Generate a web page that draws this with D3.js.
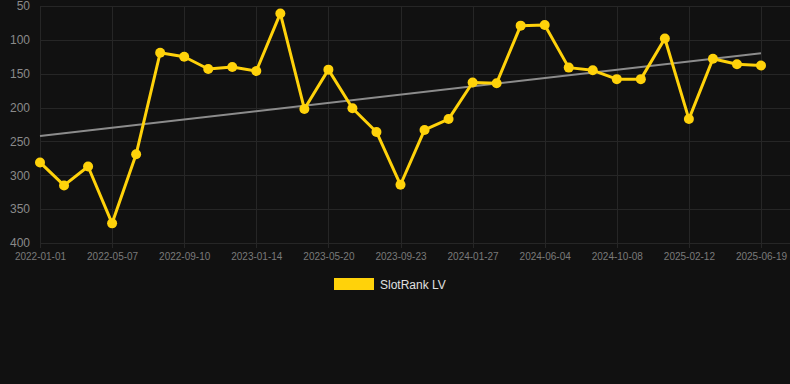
<!DOCTYPE html>
<html>
<head>
<meta charset="utf-8">
<script src="https://cdn.jsdelivr.net/npm/d3@7"></script>
<style>
  html, body { margin: 0; padding: 0; background: #111111; }
  svg { display: block; }
</style>
</head>
<body>
<svg id="chart" width="790" height="384"></svg>
<script>
// ---- data ----
const dates = [
  "2022-01-01","2022-02-12","2022-03-26","2022-05-07","2022-06-18","2022-07-30",
  "2022-09-10","2022-10-22","2022-12-03","2023-01-14","2023-02-25","2023-04-08",
  "2023-05-20","2023-07-01","2023-08-12","2023-09-23","2023-11-04","2023-12-16",
  "2024-01-27","2024-03-09","2024-04-23","2024-06-04","2024-07-16","2024-08-27",
  "2024-10-08","2024-11-19","2025-01-01","2025-02-12","2025-03-27","2025-05-08",
  "2025-06-19"
];
const rankValues = [
  281, 315, 287, 371, 269, 119, 125, 143, 140, 146, 61,
  202, 144, 201, 236, 314, 233, 217, 163, 164, 79, 78,
  141, 145, 158, 158, 98, 217, 128, 136, 138
];
const yTicks = [50, 100, 150, 200, 250, 300, 350, 400];
const seriesName = "SlotRank LV";

// ---- layout ----
const svg = d3.select("#chart");
const plotLeft = 40, plotRight = 761, plotTop = 6, plotBottom = 243, gridRight = 790;

const x = d3.scalePoint().domain(dates).range([plotLeft, plotRight]);
const y = d3.scaleLinear().domain([50, 400]).range([plotTop, plotBottom]);

const labelDates = dates.filter((d, i) => i % 3 === 0);

// horizontal gridlines
svg.append("g").selectAll("line").data(yTicks).join("line")
  .attr("x1", plotLeft).attr("x2", gridRight)
  .attr("y1", d => Math.round(y(d)) + 0.5).attr("y2", d => Math.round(y(d)) + 0.5)
  .attr("stroke", "#262626").attr("stroke-width", 1);

// vertical gridlines
svg.append("g").selectAll("line").data(labelDates).join("line")
  .attr("x1", d => Math.round(x(d)) + 0.5).attr("x2", d => Math.round(x(d)) + 0.5)
  .attr("y1", plotTop).attr("y2", plotBottom + 5)
  .attr("stroke", "#262626").attr("stroke-width", 1);

// y axis labels
const yAxis = d3.axisLeft(y).tickValues(yTicks).tickSize(0).tickPadding(0);
const yg = svg.append("g").attr("transform", `translate(${plotLeft - 10},0)`).call(yAxis);
yg.select(".domain").remove();
yg.selectAll("text").attr("fill", "#8a8a8a").attr("font-family", "Arial, 'Liberation Sans', sans-serif")
  .attr("font-size", "12px");

// x axis labels
const xAxis = d3.axisBottom(x).tickValues(labelDates).tickSize(0).tickPadding(0);
const xg = svg.append("g").attr("transform", `translate(0,${plotBottom + 10})`).call(xAxis);
xg.select(".domain").remove();
xg.selectAll("text").attr("fill", "#7a7a7a").attr("font-family", "Arial, 'Liberation Sans', sans-serif")
  .attr("font-size", "10px");

// trend line (least squares on the data)
const n = rankValues.length;
const idx = d3.range(n);
const mx = d3.mean(idx), my = d3.mean(rankValues);
const slope = d3.sum(idx, i => (i - mx) * (rankValues[i] - my)) / d3.sum(idx, i => (i - mx) ** 2);
const icpt = my - slope * mx;
svg.append("line")
  .attr("x1", x(dates[0])).attr("y1", y(icpt))
  .attr("x2", x(dates[n - 1])).attr("y2", y(icpt + slope * (n - 1)))
  .attr("stroke", "#8c8c8c").attr("stroke-width", 2);

// series line
const gold = "#FFD20A";
const line = d3.line().x((d, i) => x(dates[i])).y(d => y(d));
svg.append("path").datum(rankValues)
  .attr("d", line).attr("fill", "none")
  .attr("stroke", gold).attr("stroke-width", 3).attr("stroke-linejoin", "round");

svg.append("g").selectAll("circle").data(rankValues).join("circle")
  .attr("cx", (d, i) => x(dates[i])).attr("cy", d => y(d))
  .attr("r", 5).attr("fill", gold);

// legend
const lg = svg.append("g");
lg.append("rect").attr("x", 334).attr("y", 278).attr("width", 40).attr("height", 12).attr("fill", gold);
lg.append("text").attr("x", 380).attr("y", 288.5).text(seriesName)
  .attr("fill", "#e0e0e0").attr("font-family", "Arial, 'Liberation Sans', sans-serif").attr("font-size", "12px");
</script>
</body>
</html>
